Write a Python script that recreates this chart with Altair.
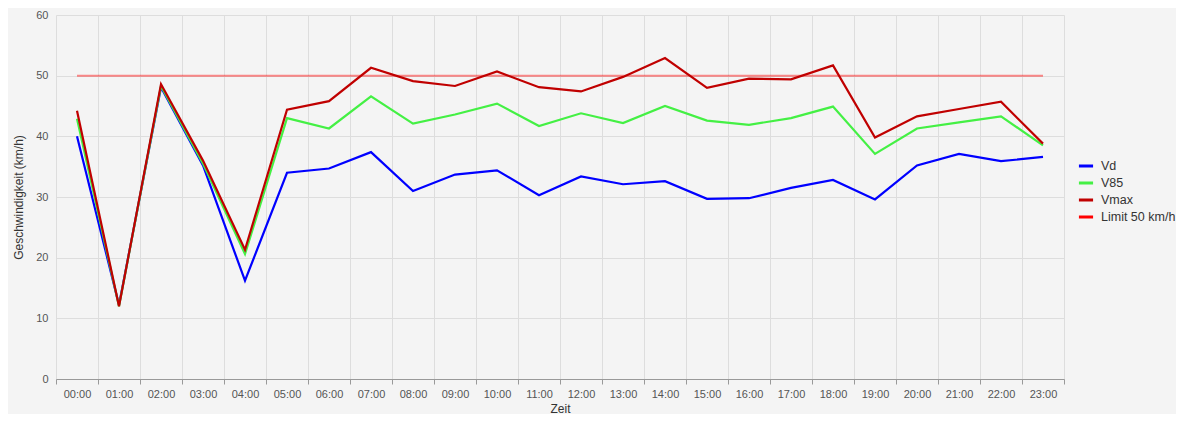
import altair as alt
import pandas as pd

hours = [f"{h:02d}:00" for h in range(24)]
vd = [40.0, 12.2, 48.1, 35.2, 16.2, 34.0, 34.7, 37.4, 31.0, 33.7, 34.4, 30.3,
      33.4, 32.1, 32.6, 29.7, 29.8, 31.5, 32.8, 29.6, 35.2, 37.1, 35.9, 36.6]
v85 = [42.9, 12.0, 48.3, 35.5, 20.6, 43.0, 41.3, 46.6, 42.1, 43.6, 45.4, 41.7,
       43.8, 42.2, 45.0, 42.6, 41.9, 43.0, 44.9, 37.1, 41.3, 42.3, 43.3, 38.5]
vmax = [44.2, 12.0, 48.6, 36.0, 21.3, 44.4, 45.8, 51.3, 49.1, 48.3, 50.7, 48.1,
        47.4, 49.8, 52.9, 48.0, 49.5, 49.4, 51.7, 39.8, 43.3, 44.5, 45.7, 38.8]
limit = [50] * 24

series_names = ["Vd", "V85", "Vmax", "Limit 50 km/h"]
series_colors = ["#0000ff", "#44f044", "#c00000", "#ff0000"]

rows = []
for name, vals in zip(series_names, [vd, v85, vmax, limit]):
    for h, v in zip(hours, vals):
        rows.append({"Zeit": h, "Wert": v, "Serie": name})
df = pd.DataFrame(rows)

color = alt.Color(
    "Serie:N",
    scale=alt.Scale(domain=series_names, range=series_colors),
    sort=series_names,
    legend=alt.Legend(
        title=None, orient="none", legendX=1021, legendY=142,
        symbolType="stroke", symbolStrokeWidth=3,
        symbolSize=200, labelFontSize=12.5, labelColor="#333333",
        labelFont="Liberation Sans", rowPadding=1, padding=0, labelOffset=6,
    ),
)

x = alt.X(
    "Zeit:N", sort=hours, bandPosition=0.5, title="Zeit",
    scale=alt.Scale(type="band", paddingInner=0, paddingOuter=0),
    axis=alt.Axis(
        tickBand="extent", grid=True, gridColor="#dddddd", labelAngle=0,
        labelFontSize=11, labelColor="#555555", labelFont="Liberation Sans",
        domainColor="#999999", tickColor="#999999", tickSize=5,
        titleFontSize=12, titleFontWeight="normal", titleColor="#333333",
        titleFont="Liberation Sans", titlePadding=4, labelPadding=4,
    ),
)

y = alt.Y(
    "Wert:Q", title="Geschwindigkeit (km/h)",
    scale=alt.Scale(domain=[0, 60], nice=False),
    axis=alt.Axis(
        values=[0, 10, 20, 30, 40, 50, 60], grid=True, gridColor="#dddddd",
        domain=False, ticks=False, labelFontSize=11, labelColor="#555555",
        labelFont="Liberation Sans", labelPadding=8,
        titleFontSize=12, titleFontWeight="normal", titleColor="#333333",
        titleFont="Liberation Sans", titlePadding=10,
    ),
)

main = alt.Chart(df).transform_filter(
    alt.datum.Serie != "Limit 50 km/h"
).mark_line(strokeWidth=2.2).encode(x=x, y=y, color=color)

lim = alt.Chart(df).transform_filter(
    alt.datum.Serie == "Limit 50 km/h"
).mark_line(strokeWidth=2, strokeOpacity=0.45).encode(x=x, y=y, color=color)

chart = alt.layer(lim, main).properties(
    width=1008, height=364,
    background="#f4f4f4",
    padding={"left": 48, "top": 7, "right": 112, "bottom": 35},
    autosize=alt.AutoSizeParams(type="none"),
).configure_view(stroke=None)

chart.save("out.html", embed_options={"renderer": "svg", "actions": False})
